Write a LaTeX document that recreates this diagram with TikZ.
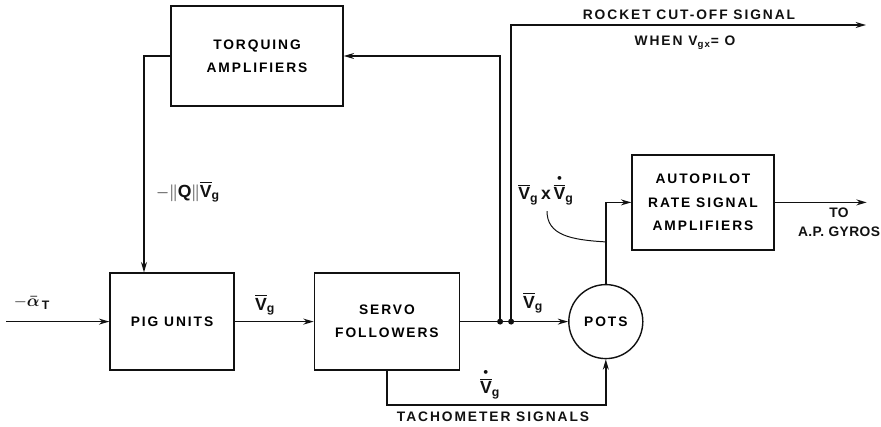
\documentclass[tikz,border=0pt]{standalone}
\usepackage{amsmath}
\usepackage{fontspec}
\setmainfont{Liberation Sans}[LetterSpace=14]
\usetikzlibrary{arrows.meta,positioning}
\definecolor{ink}{HTML}{111111}
\newcommand\lbl{\fontsize{9.8}{16.5}\selectfont\bfseries}
\newcommand\mlbl{\fontsize{12.5}{14}\selectfont\bfseries}
\newcommand\vg{\overline{\text{V}}_{\text{g}}}
\newcommand\vgdot{\overset{\scriptscriptstyle\bullet}{\overline{\text{V}}}_{\text{g}}}

\begin{document}
\begin{tikzpicture}[
  node distance=6mm,
  box/.style={draw=ink, line width=1pt, align=center, font=\lbl},
  pot/.style={box, circle, minimum size=18.5mm, inner sep=0pt},
  lab/.style={font=\lbl, text=ink, align=center, inner sep=0pt},
  mlab/.style={lab, font=\mlbl},
  arr/.style={-{Stealth[length=2.6mm, width=1.5mm]}, draw=ink, line width=1pt},
  leader/.style={draw=ink, line width=0.7pt}
]
\useasboundingbox (0,0) rectangle (220.25mm,-106.5mm);

\node[box, minimum width=31mm, minimum height=24.25mm] (pig) at (43mm,-80.4mm) {PIG UNITS};
\node[box, minimum width=36.25mm, minimum height=24.25mm, right=19.75mm of pig] (servo) {SERVO\\FOLLOWERS};
\node[pot, right=27mm of servo] (pots) {POTS};
\node[box, minimum width=35.5mm, minimum height=23.75mm] (auto) at (175.75mm,-50.6mm) {AUTOPILOT\\RATE SIGNAL\\AMPLIFIERS};
\node[box, minimum width=43mm, minimum height=25mm] (torq) at (64.25mm,-14mm) {TORQUING\\AMPLIFIERS};

\coordinate[left=25.75mm of pig.west] (ain);
\coordinate[right=10mm of servo.east] (j1);
\coordinate[right=12.75mm of servo.east] (j2);
\coordinate (cutoff) at (216.5mm,-6.25mm);
\coordinate[right=23mm of auto.east] (gyros);
\coordinate[above=10.5mm of pots.north] (tap);

% main chain
\draw[arr] (ain) -- (pig);
\draw[arr] (pig) -- (servo);
\draw[arr] (servo) -- (pots);
\draw[arr] (pots.north) |- (auto.west);
\draw[arr] (auto.east) -- (gyros);
% feedback and cut-off
\draw[arr] (j1) |- (torq.east);
\draw[arr] (torq.west) -| ([xshift=-7mm]pig.north);
\draw[arr] (j2) |- (cutoff);
\draw[arr] (servo.south) -- ++(0,-8.5mm) -| (pots.south);
\fill[ink] (j1) circle (0.75mm) (j2) circle (0.75mm);

\node[mlab] (alpha) at (8mm,-75.75mm) {$-\boldsymbol{\bar{\alpha}}_{\,\text{T}}$};
\node[mlab] (qv) at (47mm,-48mm) {$-\|\text{Q}\|\vg$};
\node[mlab] (vg1) at (66.25mm,-76.25mm) {$\vg$};
\node[mlab] (vg2) at (133.25mm,-75.75mm) {$\vg$};
\node[mlab] (vgd) at (122.5mm,-96mm) {$\vgdot$};
\node[lab] (tacho) at (123.25mm,-104.25mm) {TACHOMETER SIGNALS};
\node[lab] (rocket) at (172.25mm,-3.75mm) {ROCKET CUT-OFF SIGNAL};
\node[lab] (when) at (171.25mm,-10.75mm) {WHEN V$_{\text{gx}}$= O};
\node[mlab] (prod) at (136.5mm,-47.5mm) {$\vg\,\text{x}\,\vgdot$};
\node[lab] (togyro) at (209.75mm,-55.5mm) {\addfontfeatures{LetterSpace=3}TO\\[-3pt]\addfontfeatures{LetterSpace=3}A.P. GYROS};

\draw[leader] ([xshift=0.25mm,yshift=-1.5mm]prod.south) .. controls +(0,-6mm) and +(-8.75mm,0.5mm) .. (tap);
\end{tikzpicture}
\end{document}
